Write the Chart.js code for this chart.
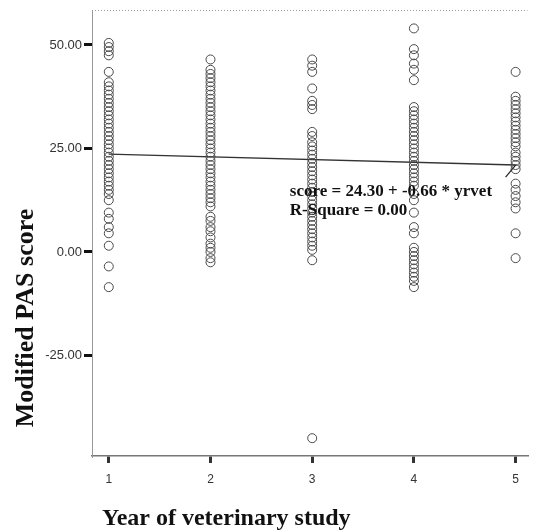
<!DOCTYPE html>
<html>
<head>
<meta charset="utf-8">
<script src="https://cdn.jsdelivr.net/npm/chart.js@4/dist/chart.umd.min.js"></script>
<style>
  html, body { margin: 0; padding: 0; background: #fff; }
  #wrap { width: 533px; height: 530px; }
</style>
</head>
<body>
<div id="wrap"><canvas id="grafica" width="533" height="530"></canvas></div>
<script>
// PAS scores per year of study
const years = [1, 2, 3, 4, 5];
const year1 = [50.5, 49.5, 48.5, 47.5, 43.5, 41, 40, 39, 38, 37, 36, 35, 34, 33, 32, 31, 30, 29, 28, 27, 26, 25, 24, 23, 22, 21, 20, 19, 18, 17, 16, 15, 14, 12.5, 9.5, 8, 6, 4.5, 1.5, -3.5, -8.5];
const year2 = [46.5, 44, 43, 42, 41, 40, 39, 38, 37, 36, 35, 34, 33, 32, 31, 30, 29, 28, 27, 26, 25, 24, 23, 22, 21, 20, 19, 18, 17, 16, 15, 14, 13, 12, 11, 8.5, 7.5, 6, 5, 3.5, 2, 1, 0, -1.5, -2.5];
const year3 = [46.5, 45, 43.5, 39.5, 36.5, 35.5, 34.5, 29, 28, 26.5, 25.5, 24.5, 23.5, 22.5, 21.5, 20.5, 19.5, 18.5, 17.5, 16.5, 15.5, 14.5, 13.5, 12.5, 11.5, 10.5, 9.5, 8.5, 7.5, 6.5, 5.5, 4.5, 3.5, 2.5, 1.5, 0.5, -2, -45];
const year4 = [54, 49, 47.5, 45.5, 44, 41.5, 35, 34, 33, 32, 31, 30, 29, 28, 27, 26, 25, 24, 23, 22, 21, 20, 19, 18, 17, 16, 14, 12.5, 9.5, 6, 4.5, 1, 0, -1, -2, -3, -4, -5, -6, -7, -8.5];
const year5 = [43.5, 37.5, 36.5, 35.5, 34.5, 33.5, 32.5, 31.5, 30.5, 29.5, 28.5, 27.5, 26.5, 25.5, 24, 23, 22, 21, 20, 16.5, 15, 13.5, 12, 10.5, 4.5, -1.5];
const yTicks = [-25, 0, 25, 50];

// linear fit: score = b0 + b1 * yrvet
const b0 = 24.30;
const b1 = -0.66;
const rSquare = 0.00;

const puntos = [year1, year2, year3, year4, year5]
  .flatMap((serie, i) => serie.map(v => ({ x: years[i], y: v })));
const ajuste = [years[0], years[years.length - 1]].map(x => ({ x: x, y: b0 + b1 * x }));

const decoracion = {
  id: 'decoracion',
  afterDraw(chart) {
    const ctx = chart.ctx;
    const area = chart.chartArea;
    const sx = chart.scales.x, sy = chart.scales.y;
    ctx.save();

    // dotted frame on top
    ctx.strokeStyle = '#999';
    ctx.lineWidth = 1;
    ctx.setLineDash([1, 2]);
    ctx.beginPath();
    ctx.moveTo(area.left, area.top + 0.5);
    ctx.lineTo(area.right, area.top + 0.5);
    ctx.stroke();
    ctx.setLineDash([]);

    // leader from the equation to the fit line
    const fx = sx.getPixelForValue(5);
    const fy = sy.getPixelForValue(b0 + b1 * 5);
    ctx.strokeStyle = '#222';
    ctx.lineWidth = 1.2;
    ctx.beginPath();
    ctx.moveTo(fx, fy);
    ctx.lineTo(fx - 10, fy + 12);
    ctx.stroke();

    // equation text
    ctx.fillStyle = '#111';
    ctx.font = 'bold 17px "Liberation Serif"';
    ctx.textAlign = 'left';
    ctx.textBaseline = 'alphabetic';
    const tx = sx.getPixelForValue(2.78);
    const ty = sy.getPixelForValue(13.5);
    ctx.fillText('score = ' + b0.toFixed(2) + ' + ' + b1.toFixed(2) + ' * yrvet', tx, ty);
    ctx.fillText('R-Square = ' + rSquare.toFixed(2), tx, ty + 19);

    // axis titles
    ctx.font = 'bold 24px "Liberation Serif"';
    ctx.fillText('Year of veterinary study', 102, 525);
    ctx.font = 'bold 26px "Liberation Serif"';
    ctx.translate(33, 318);
    ctx.rotate(-Math.PI / 2);
    ctx.textAlign = 'center';
    ctx.fillText('Modified PAS score', 0, 0);
    ctx.restore();
  }
};

const grafica = new Chart(document.getElementById('grafica').getContext('2d'), {
  type: 'scatter',
  data: {
    datasets: [{
      data: puntos,
      pointStyle: 'circle',
      pointRadius: 4.5,
      backgroundColor: 'rgba(0,0,0,0)',
      borderColor: '#4a4a4a',
      borderWidth: 1
    }, {
      type: 'line',
      data: ajuste,
      borderColor: '#333',
      borderWidth: 1.3,
      pointRadius: 0,
      fill: false
    }]
  },
  options: {
    responsive: false,
    animation: false,
    layout: { padding: { top: 10, right: 0, left: 0, bottom: 0 } },
    plugins: { legend: { display: false }, tooltip: { enabled: false } },
    scales: {
      x: {
        type: 'linear',
        min: 0.835,
        max: 5.117,
        afterBuildTicks: s => { s.ticks = years.map(v => ({ value: v })); },
        afterFit: s => { s.height = 74; },
        ticks: {
          callback: v => String(v),
          font: { family: 'Liberation Sans', size: 12 },
          color: '#333',
          padding: 9
        },
        grid: { drawOnChartArea: false, tickLength: 7, lineWidth: 3, color: '#333' },
        border: { color: '#777', width: 1.5 }
      },
      y: {
        min: -49.3,
        max: 58.45,
        afterBuildTicks: s => { s.ticks = yTicks.map(v => ({ value: v })); },
        afterFit: s => { s.width = 92; },
        ticks: {
          callback: v => v.toFixed(2),
          font: { family: 'Liberation Sans', size: 13 },
          color: '#333',
          padding: 2
        },
        grid: { drawOnChartArea: false, tickLength: 8, lineWidth: 3, color: '#111' },
        border: { color: '#999', width: 1, dash: [1, 2] }
      }
    }
  },
  plugins: [decoracion]
});
</script>
</body>
</html>
